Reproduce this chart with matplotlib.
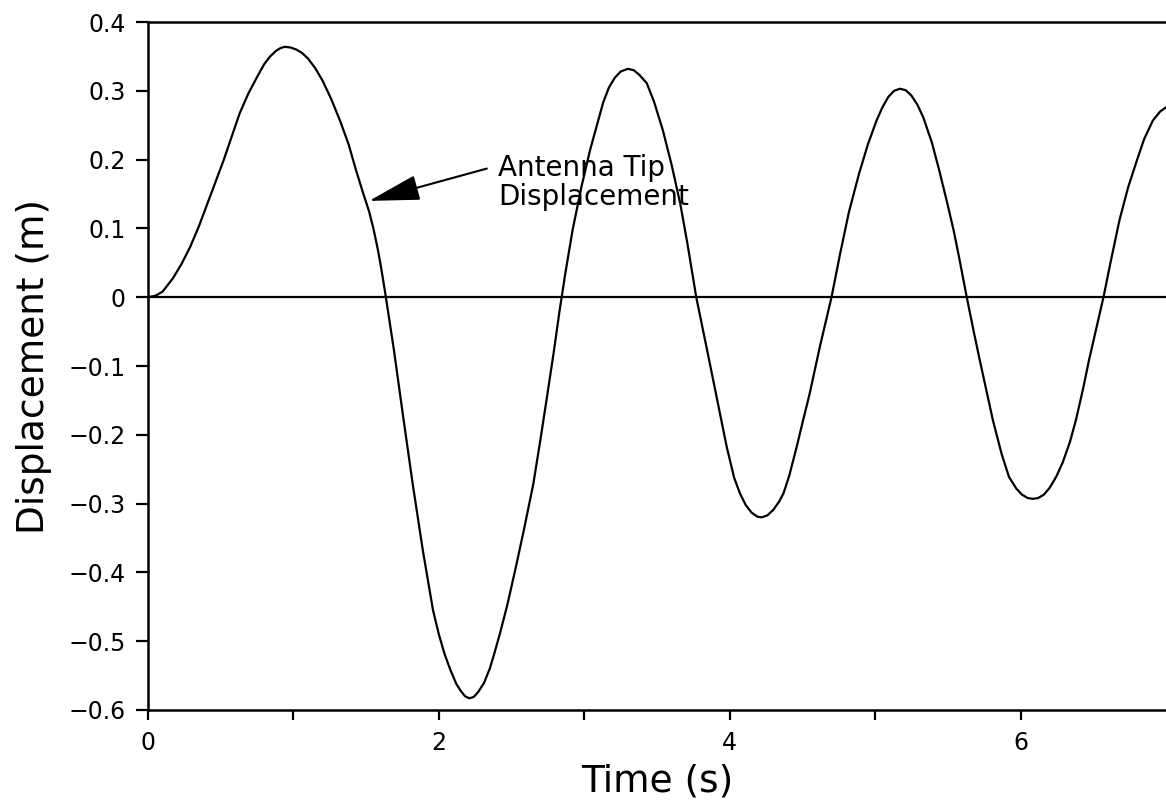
import matplotlib
matplotlib.use('Agg')
import matplotlib.pyplot as plt

# ---- datos ----
tiempo = [0.0, 0.05, 0.10, 0.17, 0.23, 0.29, 0.35, 0.40, 0.46, 0.52, 0.58, 0.63, 0.69, 0.75,
          0.80, 0.84, 0.88, 0.91, 0.94, 0.98, 1.02, 1.06, 1.10, 1.15, 1.20, 1.26, 1.32, 1.38,
          1.43, 1.48, 1.52, 1.55, 1.58, 1.60, 1.63,
          1.69, 1.755, 1.82, 1.89, 1.96, 2.00, 2.04, 2.08, 2.12, 2.15, 2.18, 2.21, 2.24, 2.27,
          2.31, 2.35, 2.38, 2.42, 2.47, 2.53, 2.59, 2.65, 2.70, 2.74, 2.79, 2.83,
          2.87, 2.92, 2.98, 3.04, 3.09, 3.13, 3.17, 3.21, 3.25, 3.30, 3.34, 3.38, 3.43, 3.48,
          3.54, 3.60, 3.66, 3.71, 3.77,
          3.84, 3.91, 3.98, 4.03, 4.07, 4.11, 4.15, 4.19, 4.22, 4.26, 4.30, 4.34, 4.37, 4.41,
          4.46, 4.50, 4.55, 4.62, 4.70,
          4.76, 4.82, 4.89, 4.95, 5.01, 5.05, 5.09, 5.13, 5.17, 5.21, 5.25, 5.29, 5.33, 5.39,
          5.44, 5.49, 5.54, 5.58, 5.63,
          5.68, 5.72, 5.77, 5.81, 5.87, 5.92, 5.97, 6.01, 6.05, 6.085, 6.12, 6.16, 6.20, 6.245,
          6.29, 6.34, 6.38, 6.43, 6.47, 6.52, 6.57,
          6.62, 6.68, 6.74, 6.80, 6.85, 6.91, 6.96, 7.00]
desplazamiento = [0.0, 0.002, 0.008, 0.027, 0.048, 0.073, 0.103, 0.131, 0.165, 0.199, 0.236, 0.267, 0.296, 0.320,
                  0.339, 0.350, 0.358, 0.362, 0.364, 0.363, 0.360, 0.355, 0.347, 0.333, 0.315, 0.288, 0.257, 0.222,
                  0.185, 0.151, 0.125, 0.100, 0.070, 0.047, 0.008,
                  -0.075, -0.174, -0.271, -0.368, -0.455, -0.490, -0.519, -0.542, -0.562, -0.572, -0.580, -0.583, -0.581, -0.574,
                  -0.561, -0.540, -0.519, -0.489, -0.448, -0.392, -0.333, -0.271, -0.205, -0.150, -0.080, -0.020,
                  0.035, 0.098, 0.160, 0.214, 0.252, 0.283, 0.305, 0.319, 0.328, 0.332, 0.330, 0.323, 0.311, 0.284,
                  0.243, 0.193, 0.136, 0.077, 0.0,
                  -0.072, -0.145, -0.218, -0.262, -0.285, -0.302, -0.313, -0.319, -0.320, -0.317, -0.309, -0.297, -0.285, -0.259,
                  -0.218, -0.183, -0.140, -0.072, 0.0,
                  0.064, 0.124, 0.180, 0.222, 0.257, 0.276, 0.291, 0.300, 0.303, 0.301, 0.293, 0.280, 0.262, 0.225,
                  0.185, 0.142, 0.097, 0.055, 0.0,
                  -0.052, -0.092, -0.140, -0.179, -0.228, -0.261, -0.278, -0.287, -0.292, -0.293, -0.292, -0.287, -0.277, -0.261,
                  -0.240, -0.210, -0.179, -0.133, -0.092, -0.046, 0.0,
                  0.052, 0.112, 0.160, 0.199, 0.230, 0.257, 0.270, 0.276]

yticks = [0.4, 0.3, 0.2, 0.1, 0.0, -0.1, -0.2, -0.3, -0.4, -0.5, -0.6]
ytick_labels = ['0.4', '0.3', '0.2', '0.1', '0', '\u22120.1', '\u22120.2', '\u22120.3',
                '\u22120.4', '\u22120.5', '\u22120.6']
xticks = [0, 2, 4, 6]
xticks_menores = [1, 3, 5]

# ---- figura ----
fig = plt.figure(figsize=(11.66, 8.07), dpi=100)
ax = fig.add_axes([0.1269, 0.1202, 0.8731, 0.8525])

ax.plot(tiempo, desplazamiento, color='black', lw=1.6)
ax.axhline(0, color='black', lw=1.6)

ax.set_xlim(0, 7)
ax.set_ylim(-0.6, 0.4)
ax.set_yticks(yticks)
ax.set_yticklabels(ytick_labels)
ax.set_xticks(xticks)
ax.set_xticks(xticks_menores, minor=True)

for s in ['left', 'top', 'bottom']:
    ax.spines[s].set_linewidth(1.8)
ax.spines['right'].set_visible(False)

ax.tick_params(axis='y', direction='out', length=9, width=1.6, pad=7, labelsize=17)
ax.tick_params(axis='x', which='both', direction='out', length=7, width=1.6, pad=8, labelsize=17)

ax.set_xlabel('Time (s)', fontsize=27, labelpad=6)
ax.set_ylabel('Displacement (m)', fontsize=27, labelpad=12)

# Anotacion con flecha
ax.text(2.41, 0.134, 'Antenna Tip\nDisplacement', fontsize=20, ha='left', va='baseline',
        linespacing=1.05)
ax.annotate('', xy=(1.52, 0.140), xytext=(2.33, 0.187),
            arrowprops=dict(arrowstyle='-|>,head_length=1.6,head_width=0.4',
                            mutation_scale=20, color='black', lw=1.5,
                            shrinkA=0, shrinkB=0))

fig.savefig('out.png', dpi=100)
